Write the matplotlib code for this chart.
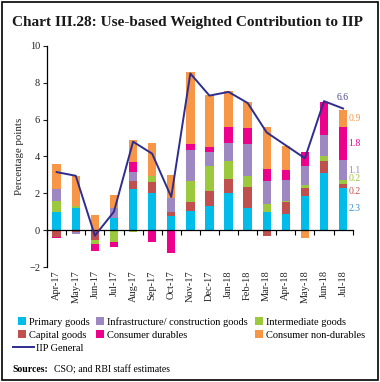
import numpy as np
import matplotlib
matplotlib.use("Agg")
import matplotlib.pyplot as plt
from matplotlib.patches import Patch, Rectangle
from matplotlib.lines import Line2D

months = ["Apr-17", "May-17", "Jun-17", "Jul-17", "Aug-17", "Sep-17", "Oct-17", "Nov-17",
          "Dec-17", "Jan-18", "Feb-18", "Mar-18", "Apr-18", "May-18", "Jun-18", "Jul-18"]

primary = [1.0, 1.2, 0.0, 0.65, 2.25, 2.0, 0.75, 1.05, 1.3, 2.0, 1.2, 1.0, 0.85, 1.85, 3.1, 2.3]
capital = [-0.35, -0.12, -0.55, -0.07, 0.43, 0.6, 0.23, 0.46, 0.85, 0.78, 1.15, -0.3, 0.68, 0.43, 0.63, 0.2]
intermediate = [0.6, 0.12, -0.2, -0.55, -0.1, 0.36, 0.0, 1.17, 1.33, 0.96, 0.6, 0.41, 0.07, 0.16, 0.28, 0.2]
infra = [0.65, -0.07, 0.0, 0.55, 0.46, 0.0, 0.74, 1.66, 0.78, 0.98, 1.71, 1.24, 1.13, 1.02, 1.15, 1.1]
durables = [-0.08, 0.0, -0.4, -0.28, 0.55, -0.65, -1.24, 0.34, 0.26, 0.89, 0.89, 0.67, 0.52, 0.8, 1.79, 1.8]
nondurables = [1.32, 1.63, 0.8, 0.72, 1.2, 1.79, 1.28, 3.88, 2.81, 1.95, 1.38, 2.29, 1.3, -0.4, 0.0, 0.9]
iip = [3.15, 2.95, -0.3, 1.0, 4.8, 4.15, 1.8, 8.5, 7.3, 7.5, 6.9, 5.3, 4.6, 3.9, 7.0, 6.6]

# labels printed next to the last bar
last_labels = ["2.3", "0.2", "0.2", "1.1", "1.8", "0.9"]

series = [
    ("Primary goods", primary, "#00BCEB"),
    ("Capital goods", capital, "#C0504D"),
    ("Intermediate goods", intermediate, "#9BC83C"),
    ("Infrastructure/ construction goods", infra, "#9E88C2"),
    ("Consumer durables", durables, "#EC008C"),
    ("Consumer non-durables", nondurables, "#F79646"),
]
line_color = "#2E2D8F"
serif = ["Liberation Serif", "DejaVu Serif"]
plt.rcParams["font.family"] = serif

fig = plt.figure(figsize=(3.8, 3.82), dpi=100)
ax = fig.add_axes([0.124, 0.301, 0.804, 0.579])

x = np.arange(len(months))
pos_bottom = np.zeros(len(months))
neg_bottom = np.zeros(len(months))
mids = []
for name, vals, col in series:
    v = np.array(vals)
    bottom = np.where(v >= 0, pos_bottom, neg_bottom)
    ax.bar(x, v, width=0.44, bottom=bottom, color=col, linewidth=0, zorder=2)
    mids.append(bottom[-1] + v[-1] / 2)
    pos_bottom = pos_bottom + np.where(v >= 0, v, 0)
    neg_bottom = neg_bottom + np.where(v < 0, v, 0)

ax.plot(x, iip, color=line_color, linewidth=1.4, zorder=3)

# value labels for the latest month
offsets = [0, -4, 3, 0, 0, 0]
for (name, vals, col), m, lab, off in zip(series, mids, last_labels, offsets):
    txtcol = "#3B8EC4" if name == "Primary goods" else col
    ax.annotate(lab, (x[-1] + 0.28, m), xytext=(0, off), textcoords="offset points",
                ha="left", va="center", fontsize=7, color=txtcol, annotation_clip=False)
ax.annotate("6.6", (x[-1], iip[-1]), xytext=(0, 5), textcoords="offset points",
            ha="center", va="bottom", fontsize=7, color="#4A4A8A")

ax.set_xlim(-0.5, len(months) - 0.5)
ax.set_ylim(-2, 10)
ax.set_yticks([-2, 0, 2, 4, 6, 8, 10])
ax.tick_params(axis="y", labelsize=7.5, length=3, width=0.8, colors="#222222", pad=2)

ax.spines["top"].set_visible(False)
ax.spines["right"].set_visible(False)
ax.spines["bottom"].set_position(("data", 0))
ax.spines["left"].set_linewidth(0.9)
ax.spines["bottom"].set_linewidth(0.9)

ax.set_xticks(x)
ax.set_xticklabels(months, rotation=90, fontsize=7.5, color="#222222")
ax.set_xticks(np.arange(len(months) + 1) - 0.5, minor=True)
ax.tick_params(axis="x", which="major", length=0, pad=29)
ax.tick_params(axis="x", which="minor", length=3.5, width=0.8, direction="out")

ax.set_ylabel("Percentage points", fontsize=7.8, color="#222222", labelpad=4)

# legend
order = [0, 1, 3, 4, 2, 5]
handles = [Patch(facecolor=series[i][2], edgecolor="none") for i in order]
labels = [series[i][0] for i in order]
fig.legend(handles, labels, ncol=3, loc="upper left", bbox_to_anchor=(0.047, 0.170),
           frameon=False, fontsize=7.5, handlelength=0.75, handleheight=0.75,
           handletextpad=0.3, columnspacing=0.65, labelspacing=0.35, borderaxespad=0,
           borderpad=0)
fig.legend([Line2D([0], [0], color=line_color, lw=1.4)], ["IIP General"], loc="upper left",
           bbox_to_anchor=(0.035, 0.101), frameon=False, fontsize=7.5, handlelength=2.0,
           handletextpad=0.2, borderaxespad=0, borderpad=0)

fig.text(0.032, 0.94, "Chart III.28: Use-based Weighted Contribution to IIP",
         fontsize=11, fontweight="bold", color="#1a1a1a", va="center", ha="left")
fig.text(0.032, 0.032, "Sources:", fontsize=7, fontweight="bold", va="center", ha="left")
fig.text(0.143, 0.032, "CSO; and RBI staff estimates", fontsize=7, va="center", ha="left")

fig.patches.append(Rectangle((0.006, 0.006), 0.988, 0.988, transform=fig.transFigure,
                             fill=False, edgecolor="black", linewidth=1.2))

fig.savefig("out.png", dpi=100)
